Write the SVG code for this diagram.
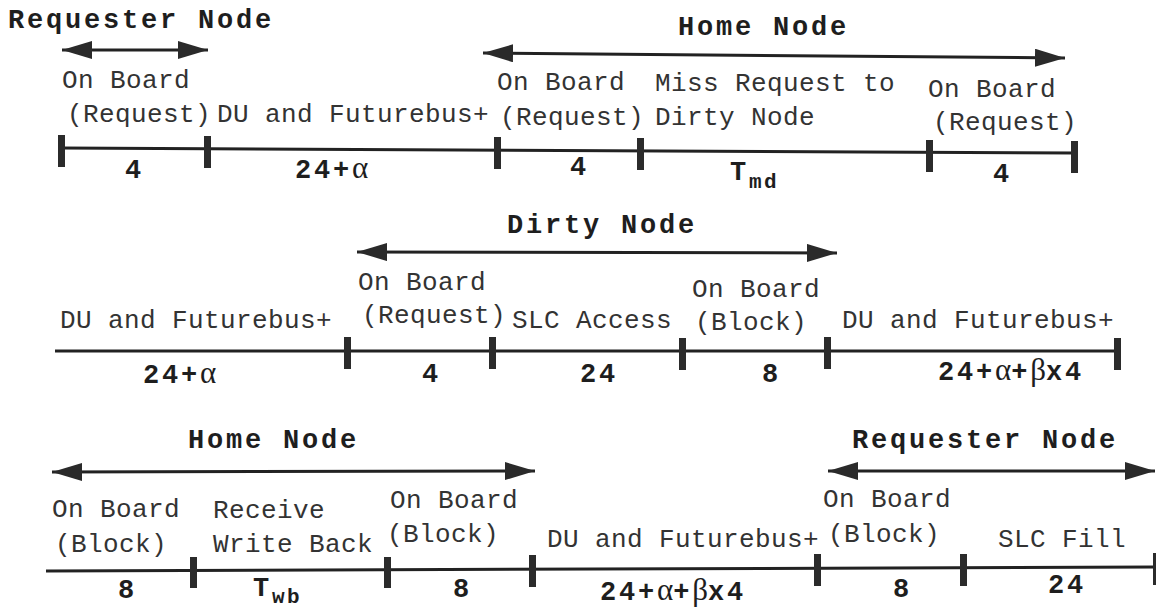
<svg xmlns="http://www.w3.org/2000/svg" width="1156" height="610" viewBox="0 0 1156 610">
  <style>
    .lbl { font-family: "Liberation Mono", "Courier New", monospace; font-size: 26px; letter-spacing: 0.4px; fill: #333; }
    .hd { font-family: "Liberation Mono", "Courier New", monospace; font-size: 27px; font-weight: bold; letter-spacing: 2.8px; fill: #1e1e1e; }
    .gk { font-family: "Liberation Serif", "Times New Roman", serif; font-weight: normal; font-size: 31px; letter-spacing: 0; }
    .sub { font-size: 21px; letter-spacing: 2.5px; }
    .axis { stroke: #222; stroke-width: 3; fill: none; }
    .tick { fill: #2b2b2b; }
    .span { stroke: #222; stroke-width: 3; fill: none; marker-start: url(#head); marker-end: url(#head); }
    .span-l { stroke: #222; stroke-width: 3; fill: none; marker-start: url(#head); }
    .span-r { stroke: #222; stroke-width: 3; fill: none; marker-end: url(#head); }
  </style>
  <defs>
    <marker id="head" markerUnits="userSpaceOnUse" markerWidth="32" markerHeight="20" refX="30" refY="9" orient="auto-start-reverse">
      <path d="M0,0 L30,9 L0,18 Z" fill="#2a2a2a"/>
    </marker>
  </defs>
  <rect width="1156" height="610" fill="#fff"/>

  <!-- time axes with segment ticks -->
  <g id="axes">
    <line class="axis" x1="61" y1="148" x2="1074" y2="153"/>
    <rect class="tick" x="58" y="135" width="7" height="32"/>
    <rect class="tick" x="204" y="136" width="7" height="32"/>
    <rect class="tick" x="494" y="137" width="7" height="32"/>
    <rect class="tick" x="637" y="138" width="7" height="32"/>
    <rect class="tick" x="926" y="140" width="7" height="32"/>
    <rect class="tick" x="1071" y="141" width="7" height="32"/>

    <line class="axis" x1="55" y1="351" x2="1118" y2="351"/>
    <rect class="tick" x="344" y="337" width="7" height="32"/>
    <rect class="tick" x="489" y="337" width="7" height="32"/>
    <rect class="tick" x="679" y="338" width="7" height="32"/>
    <rect class="tick" x="824" y="337" width="7" height="32"/>
    <rect class="tick" x="1114" y="338" width="7" height="32"/>

    <line class="axis" x1="46" y1="571" x2="1156" y2="567"/>
    <rect class="tick" x="190" y="557" width="7" height="31"/>
    <rect class="tick" x="384" y="557" width="7" height="31"/>
    <rect class="tick" x="529" y="555" width="7" height="32"/>
    <rect class="tick" x="814" y="554" width="7" height="32"/>
    <rect class="tick" x="960" y="554" width="7" height="32"/>
    <rect class="tick" x="1153" y="553" width="7" height="32"/>
  </g>

  <!-- node span arrows -->
  <g id="connectors">
    <line class="span" x1="62" y1="50" x2="208" y2="50"/>
    <line class="span" x1="483" y1="53" x2="1065" y2="58"/>
    <line class="span" x1="357" y1="252" x2="837" y2="253"/>
    <line class="span" x1="52" y1="472" x2="535" y2="471"/>
    <line class="span" x1="828" y1="471" x2="1155" y2="471"/>
  </g>

  <!-- node headings -->
  <g id="requester-node-1"><text class="hd" x="8" y="28">Requester Node</text></g>
  <g id="home-node-1"><text class="hd" x="678" y="35">Home Node</text></g>
  <g id="dirty-node"><text class="hd" x="507" y="233">Dirty Node</text></g>
  <g id="home-node-2"><text class="hd" x="188" y="448">Home Node</text></g>
  <g id="requester-node-2"><text class="hd" x="852" y="448">Requester Node</text></g>

  <!-- row 1 segments -->
  <g id="r1-onboard-req">
    <text class="lbl" x="62" y="88">On Board</text>
    <text class="lbl" x="67" y="122">(Request)</text>
    <text class="hd" x="125" y="178">4</text>
  </g>
  <g id="r1-du-bus">
    <text class="lbl" x="217" y="122">DU and Futurebus+</text>
    <text class="hd" x="295" y="178">24+<tspan class="gk">α</tspan></text>
  </g>
  <g id="r1-home-onboard">
    <text class="lbl" x="497" y="90">On Board</text>
    <text class="lbl" x="500" y="125">(Request)</text>
    <text class="hd" x="570" y="175">4</text>
  </g>
  <g id="r1-miss-request">
    <text class="lbl" x="655" y="91">Miss Request to</text>
    <text class="lbl" x="655" y="125">Dirty Node</text>
    <text class="hd" x="730" y="180">T<tspan class="sub" dy="8">md</tspan></text>
  </g>
  <g id="r1-home-onboard-2">
    <text class="lbl" x="928" y="97">On Board</text>
    <text class="lbl" x="933" y="130">(Request)</text>
    <text class="hd" x="993" y="182">4</text>
  </g>

  <!-- row 2 segments -->
  <g id="r2-du-bus">
    <text class="lbl" x="60" y="328">DU and Futurebus+</text>
    <text class="hd" x="143" y="383">24+<tspan class="gk">α</tspan></text>
  </g>
  <g id="r2-onboard-req">
    <text class="lbl" x="358" y="290">On Board</text>
    <text class="lbl" x="362" y="323">(Request)</text>
    <text class="hd" x="422" y="382">4</text>
  </g>
  <g id="r2-slc-access">
    <text class="lbl" x="512" y="328">SLC Access</text>
    <text class="hd" x="580" y="382">24</text>
  </g>
  <g id="r2-onboard-block">
    <text class="lbl" x="692" y="297">On Board</text>
    <text class="lbl" x="695" y="330">(Block)</text>
    <text class="hd" x="762" y="382">8</text>
  </g>
  <g id="r2-du-bus-2">
    <text class="lbl" x="842" y="328">DU and Futurebus+</text>
    <text class="hd" x="938" y="380">24+<tspan class="gk">α</tspan>+<tspan class="gk">β</tspan>x4</text>
  </g>

  <!-- row 3 segments -->
  <g id="r3-onboard-block">
    <text class="lbl" x="52" y="517">On Board</text>
    <text class="lbl" x="55" y="552">(Block)</text>
    <text class="hd" x="118" y="598">8</text>
  </g>
  <g id="r3-write-back">
    <text class="lbl" x="213" y="518">Receive</text>
    <text class="lbl" x="213" y="552">Write Back</text>
    <text class="hd" x="253" y="596">T<tspan class="sub" dy="7">wb</tspan></text>
  </g>
  <g id="r3-onboard-block-2">
    <text class="lbl" x="390" y="508">On Board</text>
    <text class="lbl" x="387" y="542">(Block)</text>
    <text class="hd" x="453" y="597">8</text>
  </g>
  <g id="r3-du-bus">
    <text class="lbl" x="547" y="547">DU and Futurebus+</text>
    <text class="hd" x="600" y="600">24+<tspan class="gk">α</tspan>+<tspan class="gk">β</tspan>x4</text>
  </g>
  <g id="r3-req-onboard">
    <text class="lbl" x="823" y="507">On Board</text>
    <text class="lbl" x="828" y="542">(Block)</text>
    <text class="hd" x="893" y="597">8</text>
  </g>
  <g id="r3-slc-fill">
    <text class="lbl" x="998" y="547">SLC Fill</text>
    <text class="hd" x="1048" y="593">24</text>
  </g>
</svg>
